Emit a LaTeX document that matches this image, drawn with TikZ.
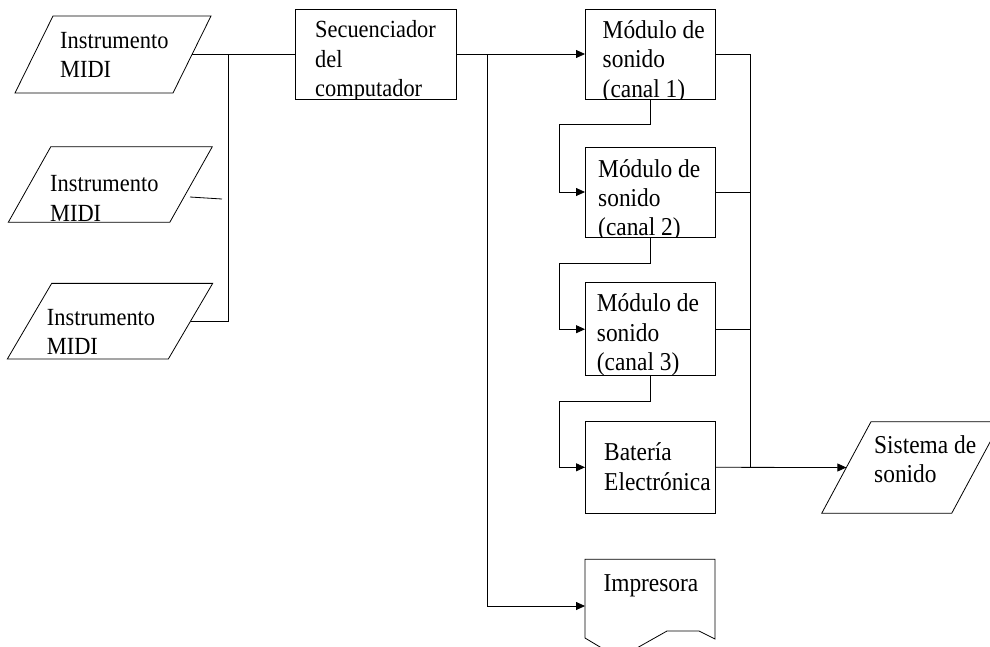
\documentclass[tikz,border=0pt]{standalone}
\usepackage{graphicx}
\usepackage{fontspec}
\setmainfont{Liberation Serif}
\usetikzlibrary{arrows.meta,calc}
\newcommand\drawpara[2]{%
  \draw[line] ($(#1.north west)+(#2/2,0)$) -- ($(#1.north east)+(#2/2,0)$)
    -- ($(#1.south east)+(-#2/2,0)$) -- ($(#1.south west)+(-#2/2,0)$) -- cycle;}
\newcommand\tallt[1]{\scalebox{1}[1.1]{#1}}
\begin{document}
\begin{tikzpicture}[x=1pt,y=-1pt,
  line/.style={draw=black, line width=0.8pt},
  arr/.style={line, -{Triangle[length=9pt,width=8pt]}},
  box/.style={draw=black, line width=0.8pt, rectangle, inner sep=0pt, outer sep=0pt},
  parabody/.style={draw=none, rectangle, inner sep=0pt, outer sep=0pt},
  txtL/.style={inner sep=0pt, anchor=base west, font=\fontsize{22.4pt}{27pt}\selectfont},
  txtR/.style={inner sep=0pt, anchor=base west, font=\fontsize{23.4pt}{26.8pt}\selectfont}
]
\useasboundingbox (0,0) rectangle (990,646);
\clip (0,0) rectangle (990,646);

% input parallelograms
\node[parabody, minimum width=158pt, minimum height=77pt] (p1) at (113,54.5) {};
\node[parabody, minimum width=161.5pt, minimum height=75.6pt] (p2) at (110.3,184.5) {};
\node[parabody, minimum width=161pt, minimum height=75.7pt] (p3) at (110,321.2) {};
\drawpara{p1}{38}
\drawpara{p2}{42.5}
\drawpara{p3}{44.4}
\node[txtL] (t1) at (60,48) {\tallt{\vtop{\hbox{Instrumento}\hbox{MIDI}}}};
\node[txtL] (t2) at (50,191.7) {\tallt{\vtop{\hbox{Instrumento}\hbox{MIDI}}}};
\node[txtL] (t3) at (46.7,325) {\tallt{\vtop{\hbox{Instrumento}\hbox{MIDI}}}};

% sequencer
\node[box, minimum width=161pt, minimum height=90pt] (seq) at (375.5,54) {};
\begin{scope}
  \clip (seq.north west) rectangle (seq.south east);
  \node[txtL] (tseq) at (315,37.3) {\tallt{\vtop{\hbox{Secuenciador}\hbox{del}\hbox{computador}}}};
\end{scope}

% modules
\node[box, minimum width=130pt, minimum height=90pt] (m1) at (650,54) {};
\node[box, minimum width=130pt, minimum height=90pt] (m2) at (650,192) {};
\node[box, minimum width=130pt, minimum height=93pt] (m3) at (650,329.2) {};
\node[box, minimum width=130pt, minimum height=91.3pt] (bat) at (650,467.3) {};
\begin{scope}
  \clip (m1.north west) rectangle (m1.south east);
  \node[txtR] (tm1) at (602.5,38.5) {\tallt{\vtop{\hbox{Módulo de}\hbox{sonido}\hbox{(canal 1)}}}};
\end{scope}
\begin{scope}
  \clip (m2.north west) rectangle (m2.south east);
  \node[txtR] (tm2) at (598,177) {\tallt{\vtop{\hbox{Módulo de}\hbox{sonido}\hbox{(canal 2)}}}};
\end{scope}
\begin{scope}
  \clip (m3.north west) rectangle (m3.south east);
  \node[txtR] (tm3) at (596.7,311.7) {\tallt{\vtop{\hbox{Módulo de}\hbox{sonido}\hbox{(canal 3)}}}};
\end{scope}
\begin{scope}
  \clip (bat.north west) rectangle (bat.south east);
  \node[txtR] (tbat) at (604,460.7) {\tallt{\vtop{\hbox{Batería}\hbox{Electrónica}}}};
\end{scope}

% printer (document shape)
\node[parabody, minimum width=130pt, minimum height=93.4pt] (imp) at (650,606) {};
\draw[line] (imp.north west) -- (imp.north east) -- (715,639) -- (699,631) -- (667,631)
  -- (628,653) -- (610,653) -- (585,638) -- cycle;
\node[txtR] (timp) at (603.3,591.7) {\tallt{Impresora}};

% sound system
\node[parabody, minimum width=130pt, minimum height=91.6pt] (sis) at (911.35,467.5) {};
\drawpara{sis}{49.3}
\node[txtR] (tsis) at (874,453) {\tallt{\vtop{\hbox{Sistema de}\hbox{sonido}}}};

% connectors
\coordinate (j1) at (228,54.5);
\coordinate (j2) at (487,54);
\coordinate (bus) at (750,54);
\coordinate (s2a) at (190,197);
\coordinate (s2b) at (222,199);

\draw[line] (p1.east) -- (p1.east -| seq.west);
\draw[line] (p3.east) -- (p3.east -| j1) -- (j1);
\draw[line] (s2a) -- (s2b);

\draw[arr] (seq.east) -- (m1.west);
\draw[arr] (j2) |- (imp.west);

\draw[arr] (m1.south) -- ++(0,25) -- ++(-91,0) |- (m2.west);
\draw[arr] (m2.south) -- ++(0,26) -- ++(-91,0) |- (m3.west);
\draw[arr] (m3.south) -- ++(0,25.3) -- ++(-91,0) |- (bat.west);

\draw[line] (m1.east) -- (m1.east -| bus) -- (bat.east -| bus) -- ++(37,0);
\draw[line] (m2.east) -- (m2.east -| bus);
\draw[line] (m3.east) -- (m3.east -| bus);
\draw[arr] (bat.east) -- (sis.west);
\end{tikzpicture}
\end{document}
